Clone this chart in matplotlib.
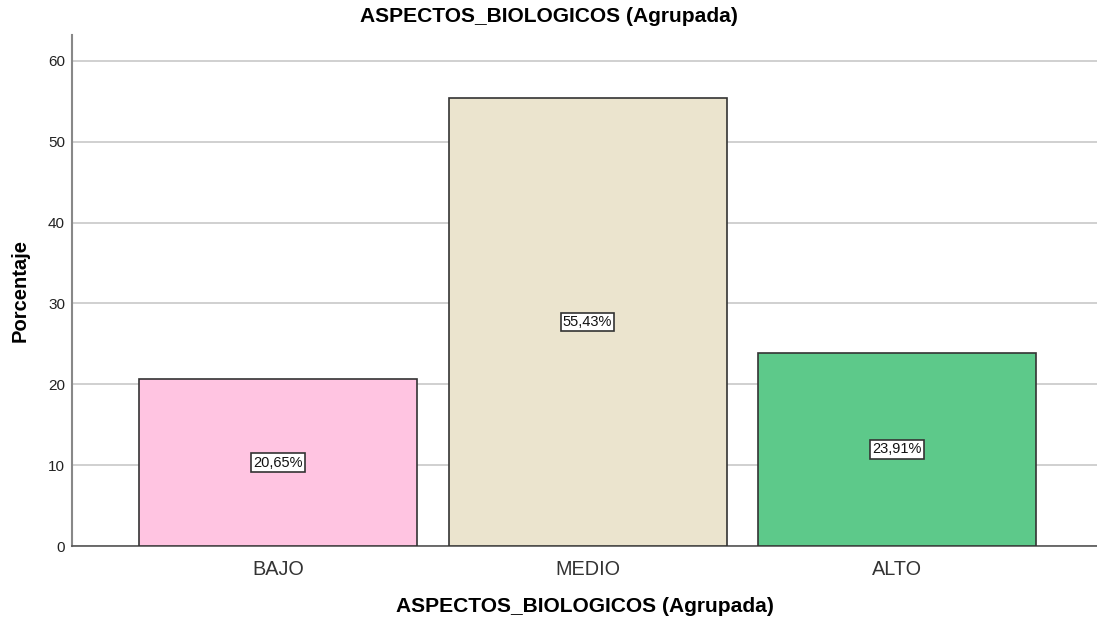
import matplotlib
matplotlib.use("Agg")
import matplotlib.pyplot as plt

categories = ["BAJO", "MEDIO", "ALTO"]
values = [20.65, 55.43, 23.91]
labels = ["20,65%", "55,43%", "23,91%"]
colors = ["#FFC4E1", "#EBE4CE", "#5DC98A"]
yticks = [0, 10, 20, 30, 40, 50, 60]

plt.rcParams['font.family'] = ['Liberation Sans', 'DejaVu Sans']

fig = plt.figure(figsize=(10.97, 6.23), dpi=100)
ax = fig.add_axes([72/1097, 1-546/623, (1097-72)/1097, (546-35)/623])

x = list(range(len(categories)))
ax.bar(x, values, width=0.898, color=colors, edgecolor="#333333", linewidth=1.2, zorder=3)
for xi, v, lab in zip(x, values, labels):
    ax.text(xi, v/2, lab, ha="center", va="center", fontsize=10.5, color="#111111", zorder=4,
            bbox=dict(boxstyle="square,pad=0.15", facecolor="white", edgecolor="#333333", linewidth=1.2))

ax.set_xlim(-0.666, 2.646)
ax.set_ylim(0, 63.2)
ax.set_yticks(yticks)
ax.set_xticks(x)
ax.set_xticklabels(categories, fontsize=14.3, color="#333333")
ax.tick_params(axis='y', labelsize=11, length=0, pad=5, labelcolor="#222222")
ax.tick_params(axis='x', length=0, pad=10)
ax.yaxis.grid(True, color="#C8C8C8", linewidth=1.2, zorder=0)
ax.set_axisbelow(True)
for s in ["top", "right"]:
    ax.spines[s].set_visible(False)
ax.spines["left"].set_color("#888888")
ax.spines["left"].set_linewidth(1.5)
ax.spines["bottom"].set_color("#555555")
ax.spines["bottom"].set_linewidth(1.2)

ax.set_ylabel("Porcentaje", fontsize=14.5, fontweight="bold", va="center")
ax.yaxis.set_label_coords(-52/1025, 0.5)
ax.set_xlabel("ASPECTOS_BIOLOGICOS (Agrupada)", fontsize=15.1, fontweight="bold", va="center")
ax.xaxis.set_label_coords(0.5, -(607-546)/511)
fig.text(0.5, 1-17/623, "ASPECTOS_BIOLOGICOS (Agrupada)", ha="center", va="center",
         fontsize=15.1, fontweight="bold")

fig.savefig("out.png", dpi=100)
